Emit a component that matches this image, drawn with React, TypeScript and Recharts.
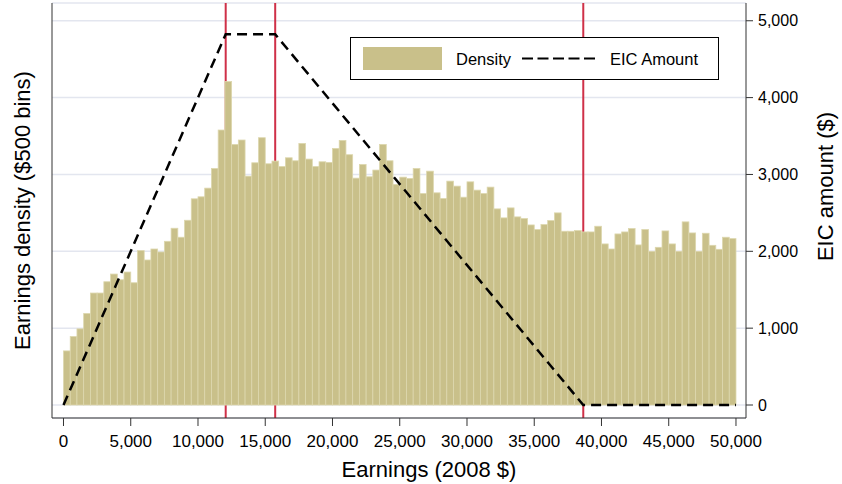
import React from "react";
import {
  ComposedChart,
  Bar,
  Line,
  XAxis,
  YAxis,
  CartesianGrid,
} from "recharts";

// histogram: $500 bins from 0 to 50,000 (height in right-axis units, density has no ticks)
const BIN_WIDTH = 500;
const densityHeights = [
  704, 891, 991, 1191, 1457, 1457, 1604, 1704, 1630, 1730,
  1591, 2009, 1887, 2030, 1991, 2130, 2300, 2183, 2404, 2683,
  2709, 2822, 3078, 3578, 4209, 3391, 3448, 2978, 3152, 3478,
  3139, 3174, 3104, 3217, 3178, 3404, 3200, 3104, 3165, 3157,
  3339, 3443, 3257, 2952, 3130, 2970, 3057, 3391, 3178, 2870,
  2965, 2948, 3078, 2752, 3043, 2761, 2687, 2913, 2848, 2704,
  2904, 2796, 2752, 2835, 2552, 2435, 2565, 2448, 2426, 2343,
  2283, 2348, 2400, 2500, 2261, 2261, 2270, 2252, 2252, 2326,
  2096, 2030, 2226, 2252, 2296, 2083, 2283, 2000, 2052, 2265,
  2096, 2000, 2383, 2239, 2000, 2235, 2078, 2026, 2183, 2165,
];

// EIC schedule (2008, two children)
const eicEarnings = [0, 12060, 15740, 38646, 50000];
const eicAmount = [0, 4824, 4824, 0, 0];
const kinkPoints = [12060, 15740, 38646];

const xTicks = [0, 5000, 10000, 15000, 20000, 25000, 30000, 35000, 40000, 45000, 50000];
const yTicks = [0, 1000, 2000, 3000, 4000, 5000];

const histData = densityHeights.map((d, i) => ({
  mid: i * BIN_WIDTH + BIN_WIDTH / 2,
  density: d,
}));
const eicData = eicEarnings.map((e, i) => ({ mid: e, eic: eicAmount[i] }));

const W = 842;
const H = 484;
const TOP = 3;
const BOTTOM = 418;
const LEFT = 52;
const RIGHT = 746;
const X_DOMAIN: [number, number] = [-855, 50745];
const Y_DOMAIN: [number, number] = [-169, 5231];
const barPx = ((RIGHT - LEFT) / (X_DOMAIN[1] - X_DOMAIN[0])) * BIN_WIDTH;

const FONT = "'Liberation Sans', Arial, Helvetica, sans-serif";
const BAR_FILL = "#c9c08a";
const BAR_EDGE = "#ddd7ae";
const AXIS = "#333";
const RED = "#cf3048";
const fmt = (v: number) => v.toLocaleString("en-US");

// full-width histogram bar, centred on the bin midpoint
const HistBar = (props: any) => {
  const { x, y, width, height } = props;
  if (height == null || height <= 0) return null;
  const cx = x + width / 2;
  return (
    <rect
      x={cx - barPx / 2}
      y={y}
      width={barPx}
      height={height}
      fill={BAR_FILL}
      stroke={BAR_EDGE}
      strokeWidth={0.8}
    />
  );
};

// red kink lines live in the grid layer so the bars sit on top of them
const kinkCoords = ({ xAxis, offset }: any) => {
  if (xAxis && typeof xAxis.scale === "function") {
    return kinkPoints.map((k) => xAxis.scale(k));
  }
  const left = offset?.left ?? LEFT;
  const w = offset?.width ?? RIGHT - LEFT;
  return kinkPoints.map((k) => left + ((k - X_DOMAIN[0]) / (X_DOMAIN[1] - X_DOMAIN[0])) * w);
};

const LegendBox = () => (
  <svg width={370} height={44} style={{ position: "absolute", left: 350, top: 37 }}>
    <rect x={0.5} y={0.5} width={368} height={42} fill="#fff" stroke="#000" strokeWidth={1} />
    <rect x={13} y={10} width={79} height={23} fill={BAR_FILL} />
    <text x={106} y={27.5} fontSize={16.5} fontFamily={FONT} fill="#000">Density</text>
    <line x1={172} y1={21.5} x2={249} y2={21.5} stroke="#000" strokeWidth={2} strokeDasharray="11 4.5" />
    <text x={260} y={27.5} fontSize={16.5} fontFamily={FONT} fill="#000">EIC Amount</text>
  </svg>
);

export default function App() {
  return (
    <div style={{ position: "absolute", left: 0, top: 0, width: W, height: H, background: "#fff" }}>
      <ComposedChart
        width={W}
        height={H}
        data={histData}
        margin={{ top: TOP, right: 0, bottom: 0, left: 0 }}
      >
        <CartesianGrid
          yAxisId="right"
          horizontal
          vertical={false}
          stroke="#e3e6ef"
          strokeWidth={1.5}
        />
        <CartesianGrid
          yAxisId="right"
          horizontal={false}
          vertical
          verticalCoordinatesGenerator={kinkCoords}
          stroke={RED}
          strokeWidth={2}
        />
        <XAxis
          dataKey="mid"
          type="number"
          domain={X_DOMAIN}
          ticks={xTicks}
          tickFormatter={fmt}
          allowDataOverflow
          height={H - BOTTOM}
          tickSize={8}
          tickMargin={9}
          stroke={AXIS}
          tick={{ fill: "#000", fontSize: 17, fontFamily: FONT }}
          label={{
            value: "Earnings (2008 $)",
            position: "insideBottom",
            dx: 30,
            offset: 7,
            fill: "#000",
            fontSize: 22,
            fontFamily: FONT,
          }}
        />
        <YAxis
          yAxisId="left"
          orientation="left"
          width={LEFT}
          domain={Y_DOMAIN}
          allowDataOverflow
          tick={false}
          tickLine={false}
          stroke={AXIS}
          label={{
            value: "Earnings density ($500 bins)",
            angle: -90,
            position: "insideLeft",
            dx: 17,
            dy: 0,
            fill: "#000",
            fontSize: 22,
            fontFamily: FONT,
            style: { textAnchor: "middle" },
          }}
        />
        <YAxis
          yAxisId="right"
          orientation="right"
          width={W - RIGHT}
          domain={Y_DOMAIN}
          ticks={yTicks}
          allowDataOverflow
          tickFormatter={fmt}
          tickSize={7}
          tickMargin={5}
          stroke={AXIS}
          tick={{ fill: "#000", fontSize: 16, fontFamily: FONT }}
          label={{
            value: "EIC amount ($)",
            angle: -90,
            position: "insideRight",
            dx: -12,
            dy: -24,
            fill: "#000",
            fontSize: 22,
            fontFamily: FONT,
            style: { textAnchor: "middle" },
          }}
        />
        <Bar
          yAxisId="left"
          dataKey="density"
          fill={BAR_FILL}
          shape={<HistBar />}
          isAnimationActive={false}
        />
        <Line
          yAxisId="right"
          data={eicData}
          dataKey="eic"
          type="linear"
          stroke="#000"
          strokeWidth={2.5}
          strokeDasharray="10 6"
          dot={false}
          activeDot={false}
          isAnimationActive={false}
        />
      </ComposedChart>
      <LegendBox />
    </div>
  );
}
